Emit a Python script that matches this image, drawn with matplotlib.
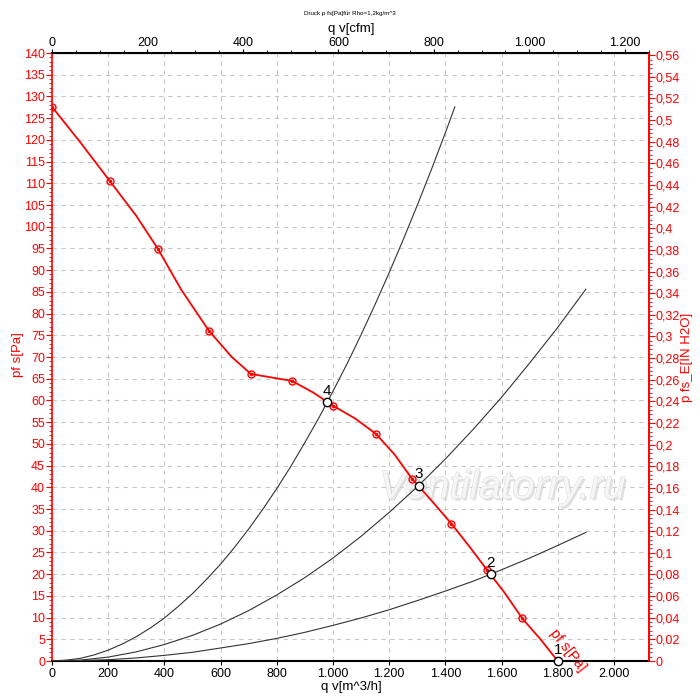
import matplotlib
matplotlib.use('Agg')
import matplotlib.pyplot as plt
import matplotlib.patheffects as pe
from matplotlib.ticker import MultipleLocator, FuncFormatter

plt.rcParams['font.family'] = ['Liberation Sans', 'DejaVu Sans']

# fan curve p fs [Pa] over q v [m^3/h]
fan_q = [0, 100, 206, 300, 377, 460, 559, 640, 708, 780, 854, 930, 1000,
         1080, 1153, 1220, 1281, 1350, 1422, 1490, 1548, 1610, 1674, 1740, 1800]
fan_p = [127.6, 119.5, 110.5, 102.5, 94.9, 85.5, 76.0, 70.0, 66.1, 65.3, 64.5,
         61.8, 58.8, 55.8, 52.3, 47.5, 42.0, 37.0, 31.6, 26.0, 21.0, 15.8, 9.8, 4.9, 0]
mark_q = [0, 206, 377, 559, 708, 854, 1000, 1153, 1281, 1422, 1548, 1674]
mark_p = [127.6, 110.5, 94.9, 76.0, 66.1, 64.5, 58.8, 52.3, 42.0, 31.6, 21.0, 9.8]

# system curves
sys4_q = [0, 50, 100, 150, 200, 250, 300, 350, 400, 450, 500, 550, 600, 650, 700,
          750, 800, 850, 900, 950, 1000, 1050, 1100, 1150, 1200, 1250, 1300, 1350,
          1400, 1434]
sys4_p = [0, 0.2, 0.6, 1.4, 2.5, 3.9, 5.6, 7.6, 9.9, 12.6, 15.5, 18.8, 22.3, 26.2,
          30.4, 34.9, 39.7, 44.8, 50.3, 56.0, 62.1, 68.4, 75.1, 82.1, 89.4, 97.0,
          104.9, 113.1, 121.6, 127.6]
sys3_q = [0, 100, 200, 300, 400, 500, 600, 700, 800, 900, 1000, 1100, 1200, 1300,
          1400, 1500, 1600, 1700, 1800, 1900]
sys3_p = [0, 0.2, 0.9, 2.1, 3.8, 5.9, 8.5, 11.6, 15.2, 19.2, 23.7, 28.7, 34.2, 40.1,
          46.5, 53.4, 60.7, 68.6, 76.8, 85.6]
sys2_q = [0, 100, 200, 300, 400, 500, 600, 700, 800, 900, 1000, 1100, 1200, 1300,
          1400, 1500, 1600, 1700, 1800, 1900]
sys2_p = [0, 0.1, 0.3, 0.7, 1.3, 2.0, 3.0, 4.0, 5.2, 6.6, 8.2, 9.9, 11.8, 13.9,
          16.1, 18.4, 21.0, 23.7, 26.6, 29.6]

# operating points
op_labels = ['1', '2', '3', '4']
op_q = [1800, 1562, 1305, 980]
op_p = [0, 20.0, 40.4, 59.6]

RED = '#ff0000'
TICK_FS = 9


def thousands(x, pos):
    return '{:,.0f}'.format(x).replace(',', '.')


def comma(x, pos):
    s = '{:.2f}'.format(x).rstrip('0').rstrip('.')
    return s.replace('.', ',')


def main():
    fig = plt.figure(figsize=(7, 7), dpi=100)
    ax = fig.add_axes([52 / 700, 39 / 700, 597 / 700, 608 / 700])

    ax.set_xlim(0, 2125)
    ax.set_ylim(0, 140)
    ax.grid(True, color='#c8c8c8', linestyle=(0, (4, 4)), linewidth=0.8)
    ax.set_axisbelow(True)

    wm = ax.text(1165, 40, 'Ventilatorry.ru', fontsize=29, style='italic',
                 color='#f6f6f6', ha='left', va='center', zorder=1)
    wm.set_path_effects([pe.withSimplePatchShadow(offset=(1.5, -1.5), shadow_rgbFace='#cccccc', alpha=0.6),
                         pe.withStroke(linewidth=0.8, foreground='#dddddd')])

    for q, p in [(sys4_q, sys4_p), (sys3_q, sys3_p), (sys2_q, sys2_p)]:
        ax.plot(q, p, color='#333333', linewidth=0.8, zorder=3)

    ax.plot(fan_q, fan_p, color=RED, linewidth=1.3, zorder=4)
    ax.plot(mark_q, mark_p, linestyle='none', marker='o', markersize=5,
            markerfacecolor='none', markeredgecolor=RED, markeredgewidth=1.0, zorder=5)
    ax.plot(mark_q, mark_p, linestyle='none', marker='o', markersize=1.5,
            color=RED, zorder=5)

    ax.plot(op_q, op_p, linestyle='none', marker='o', markersize=6,
            markerfacecolor='white', markeredgecolor='black', markeredgewidth=1.0,
            zorder=6, clip_on=False)
    for lab, q, p in zip(op_labels, op_q, op_p):
        ax.annotate(lab, (q, p), xytext=(0, 3), textcoords='offset points',
                    fontsize=11, ha='center', va='bottom', zorder=7)

    ax.text(1780, 7, 'pf s[Pa]', color=RED, fontsize=10.5, rotation=-52,
            ha='left', va='center', rotation_mode='anchor', zorder=8)

    # left axis
    ax.yaxis.set_major_locator(MultipleLocator(5))
    ax.yaxis.set_minor_locator(MultipleLocator(1))
    ax.tick_params(axis='y', which='both', colors=RED, labelsize=TICK_FS, pad=1)
    ax.tick_params(axis='y', which='major', length=4)
    ax.tick_params(axis='y', which='minor', length=2)

    # bottom axis
    ax.xaxis.set_major_locator(MultipleLocator(200))
    ax.xaxis.set_major_formatter(FuncFormatter(thousands))
    ax.tick_params(axis='x', labelsize=TICK_FS, length=3, pad=2)

    ax.spines['left'].set_color(RED)
    ax.spines['left'].set_linewidth(1.2)
    ax.spines['right'].set_color(RED)
    ax.spines['right'].set_linewidth(1.2)
    ax.spines['bottom'].set_linewidth(1.5)
    ax.spines['top'].set_linewidth(1.5)

    # right axis in inch water column
    ax2 = ax.twinx()
    ax2.set_ylim(0, 140 / 249.089)
    ax2.yaxis.set_major_locator(MultipleLocator(0.02))
    ax2.yaxis.set_minor_locator(MultipleLocator(0.004))
    ax2.yaxis.set_major_formatter(FuncFormatter(comma))
    ax2.tick_params(axis='y', which='both', colors=RED, labelsize=TICK_FS, pad=1)
    ax2.tick_params(axis='y', which='major', length=4)
    ax2.tick_params(axis='y', which='minor', length=2)
    ax2.spines['right'].set_color(RED)
    ax2.spines['right'].set_linewidth(1.2)
    ax2.spines['left'].set_visible(False)
    ax2.spines['top'].set_visible(False)
    ax2.spines['bottom'].set_visible(False)

    # top axis in cfm
    top = ax.secondary_xaxis('top', functions=(lambda x: x / 1.699, lambda x: x * 1.699))
    top.xaxis.set_major_locator(MultipleLocator(200))
    top.xaxis.set_minor_locator(MultipleLocator(50))
    top.xaxis.set_major_formatter(FuncFormatter(thousands))
    top.tick_params(which='both', labelsize=TICK_FS, pad=0)
    top.tick_params(which='major', length=3)
    top.tick_params(which='minor', length=2)

    # axis titles placed like the reference
    fig.text(18 / 700, 1 - 355 / 700, 'pf s[Pa]', color=RED, fontsize=9.5,
             rotation=90, ha='center', va='center')
    fig.text(687 / 700, 1 - 357 / 700, 'p fs_E[IN H2O]', color=RED, fontsize=9.5,
             rotation=90, ha='center', va='center')
    fig.text(351 / 700, 1 - 29 / 700, 'q v[cfm]', fontsize=9.5, ha='center', va='center')
    fig.text(351 / 700, 1 - 687 / 700, 'q v[m^3/h]', fontsize=9.5, ha='center', va='center')
    fig.text(0.5, 1 - 14 / 700, 'Druck p fs[Pa]für Rho=1,2kg/m^3', fontsize=4.5,
             ha='center', va='center')

    fig.savefig('out.png', dpi=100)


if __name__ == '__main__':
    main()
